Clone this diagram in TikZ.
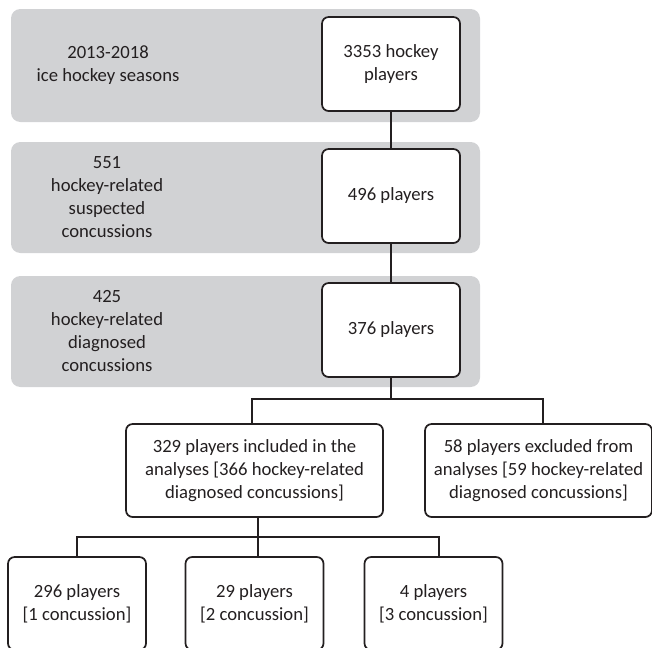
\documentclass[tikz,border=0pt]{standalone}
\usepackage{fontspec}
\setmainfont{Carlito}
\definecolor{bandgray}{RGB}{209,210,212}
\definecolor{ink}{RGB}{35,31,32}
\begin{document}
\begin{tikzpicture}[x=0.75pt,y=-0.75pt,
  font=\fontsize{14}{17.25}\selectfont, text=ink,
  band/.style={fill=bandgray, draw=none, rounded corners=7pt},
  bandtext/.style={align=center, inner sep=0pt},
  wbox/.style={draw=ink, line width=1.3pt, fill=white, rounded corners=5pt, align=center, inner sep=0pt},
  link/.style={draw=ink, line width=1.1pt}]
\clip (0,0) rectangle (652,647);
% gray bands
\node[band, minimum width=351.75pt, minimum height=84.75pt] (g1) at (245.5,65.5) {};
\node[band, minimum width=351.75pt, minimum height=83.25pt] (g2) at (245.5,197.5) {};
\node[band, minimum width=351.75pt, minimum height=83.25pt] (g3) at (245.5,331.5) {};
\node[bandtext] (l1) at (108,65.5) {2013-2018\\ice hockey seasons};
\node[bandtext] (l2) at (107,197.5) {551\\hockey-related\\suspected\\concussions};
\node[bandtext] (l3) at (107,331.5) {425\\hockey-related\\diagnosed\\concussions};
% white boxes
\node[wbox, minimum width=103.5pt, minimum height=70.5pt] (w1) at (391,64) {3353 hockey\\players};
\node[wbox, minimum width=103.5pt, minimum height=70.5pt] (w2) at (391,196) {496 players};
\node[wbox, minimum width=103.5pt, minimum height=70.5pt] (w3) at (391,330) {376 players};
\node[wbox, minimum width=192.75pt, minimum height=69.75pt] (inc) at (254.5,470.5) {329 players included in the\\analyses [366 hockey-related\\diagnosed concussions]};
\node[wbox, minimum width=170.25pt, minimum height=69.75pt] (exc) at (538.5,470.5) {58 players excluded from\\analyses [59 hockey-related\\diagnosed concussions]};
\node[wbox, minimum width=103.5pt, minimum height=69.75pt] (b1) at (77,603.5) {296 players\\{[1 concussion]}};
\node[wbox, minimum width=103.5pt, minimum height=69.75pt] (b2) at (254.5,603.5) {29 players\\{[2 concussion]}};
\node[wbox, minimum width=103.5pt, minimum height=69.75pt] (b3) at (433.5,603.5) {4 players\\{[3 concussion]}};
% connectors
\draw[link] (w1.south) -- (w2.north);
\draw[link] (w2.south) -- (w3.north);
\coordinate (j1) at (391,399);
\draw[link] (w3.south) -- (j1);
\draw[link] (j1) -| ([xshift=-1.875pt]inc.north);
\draw[link] (j1) -| ([xshift=3.375pt]exc.north);
\coordinate (j2) at (258,537);
\draw[link] ([xshift=2.625pt]inc.south) -- (j2);
\draw[link] (j2) -| (b1.north);
\draw[link] (j2) -| ([xshift=2.625pt]b2.north);
\draw[link] (j2) -| ([xshift=4.125pt]b3.north);
\end{tikzpicture}
\end{document}
